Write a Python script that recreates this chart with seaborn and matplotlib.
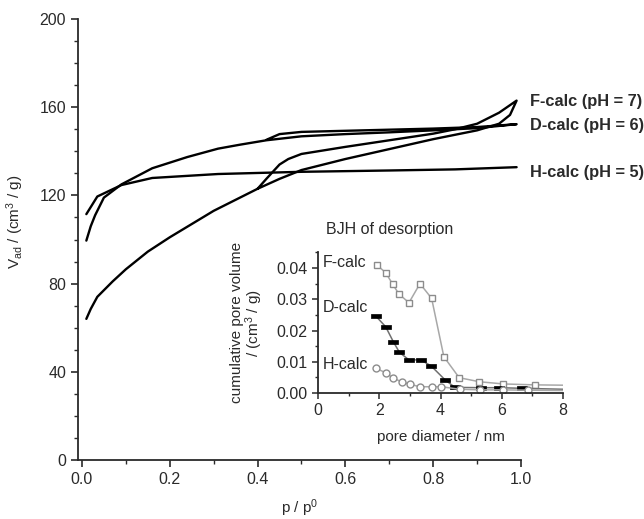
import matplotlib
matplotlib.use('Agg')
import matplotlib.pyplot as plt
from matplotlib.ticker import MultipleLocator, FormatStrFormatter
import seaborn as sns
import pandas as pd

# isotherms (p/p0, V_ad) - adsorption then desorption branch
f_ads_p = [0.01, 0.02, 0.035, 0.07, 0.10, 0.15, 0.20, 0.25, 0.30, 0.35, 0.40, 0.45, 0.50, 0.60, 0.70, 0.80, 0.85, 0.90, 0.95, 0.975, 0.99]
f_ads_v = [64, 68.5, 74, 81, 86.5, 94.5, 101, 107, 113, 118, 123, 127.5, 131.5, 136.5, 141, 145.5, 147.5, 149.5, 152.5, 156.5, 163]
f_des_p = [0.99, 0.95, 0.90, 0.85, 0.80, 0.70, 0.60, 0.50, 0.47, 0.45, 0.42, 0.40]
f_des_v = [163, 157.5, 152.5, 150, 148, 145, 142, 138.8, 136.5, 134, 127.5, 123]

d_ads_p = [0.01, 0.02, 0.03, 0.05, 0.09, 0.16, 0.24, 0.31, 0.36, 0.42, 0.50, 0.60, 0.70, 0.80, 0.90, 0.99]
d_ads_v = [99.5, 106, 111, 119, 125, 132.3, 137.4, 141.2, 143, 145, 146.8, 147.8, 148.6, 149.5, 150.5, 152.3]
d_des_p = [0.99, 0.90, 0.80, 0.70, 0.60, 0.50, 0.45, 0.42]
d_des_v = [152.3, 151, 150.3, 149.8, 149.3, 148.8, 147.8, 145.2]

h_p = [0.01, 0.035, 0.09, 0.16, 0.31, 0.50, 0.70, 0.85, 0.99]
h_v = [111.5, 119.5, 124.7, 127.9, 129.7, 130.7, 131.3, 131.8, 132.8]

iso_labels = ['F-calc (pH = 7)', 'D-calc (pH = 6)', 'H-calc (pH = 5)']

# BJH desorption, cumulative pore volume (last point = line end, no marker)
f_bjh_d = [1.92, 2.21, 2.44, 2.64, 2.97, 3.33, 3.71, 4.11, 4.61, 5.27, 6.05, 7.09, 8.0]
f_bjh_v = [0.0410, 0.0385, 0.0348, 0.0317, 0.0289, 0.0350, 0.0303, 0.0116, 0.0049, 0.0036, 0.0029, 0.0026, 0.0025]
d_bjh_d = [1.89, 2.21, 2.46, 2.66, 2.97, 3.35, 3.69, 4.15, 4.47, 5.31, 5.92, 6.67, 8.0]
d_bjh_v = [0.0246, 0.0212, 0.0164, 0.0130, 0.0106, 0.0106, 0.0087, 0.0042, 0.0018, 0.0017, 0.0017, 0.0015, 0.0012]
h_bjh_d = [1.89, 2.21, 2.46, 2.73, 3.00, 3.33, 3.71, 4.02, 4.64, 5.30, 6.05, 6.85, 8.0]
h_bjh_v = [0.0079, 0.0065, 0.0047, 0.0036, 0.0028, 0.0020, 0.0020, 0.0020, 0.0012, 0.0010, 0.0010, 0.0009, 0.0008]
bjh_labels = ['F-calc', 'D-calc', 'H-calc']

sns.set_style("ticks")
plt.rcParams['font.family'] = ['Liberation Sans', 'DejaVu Sans']
plt.rcParams['font.size'] = 11.5
plt.rcParams['mathtext.default'] = 'regular'
txt = '#2a2a2a'

fig = plt.figure(figsize=(6.44, 5.19), dpi=100)
ax = fig.add_axes([78 / 644, 59 / 519, 443 / 644, 441 / 519])

# main isotherms
iso = [(f_ads_p + f_des_p, f_ads_v + f_des_v),
       (d_ads_p + d_des_p, d_ads_v + d_des_v),
       (h_p, h_v)]
for p, v in iso:
    df = pd.DataFrame({'p': p, 'v': v})
    sns.lineplot(data=df, x='p', y='v', sort=False, estimator=None,
                 color='black', lw=1.7, ax=ax)

ax.set_xlim(-0.009, 1.0)
ax.set_ylim(0, 200)
ax.xaxis.set_major_locator(MultipleLocator(0.2))
ax.xaxis.set_minor_locator(MultipleLocator(0.1))
ax.yaxis.set_major_locator(MultipleLocator(40))
ax.yaxis.set_minor_locator(MultipleLocator(10))
ax.xaxis.set_major_formatter(FormatStrFormatter('%.1f'))
ax.tick_params(which='major', direction='out', length=5, width=1.2, colors=txt, labelsize=11.5)
ax.tick_params(which='minor', direction='out', length=3, width=1.0, colors=txt)
sns.despine(ax=ax)
for s in ['left', 'bottom']:
    ax.spines[s].set_linewidth(1.3)
    ax.spines[s].set_color(txt)
ax.set_xlabel('p / p$^0$', fontsize=11, color=txt, va='top')
ax.set_ylabel('V$_{ad}$ / (cm$^3$ / g)', fontsize=11, color=txt)
ax.xaxis.set_label_coords(0.5, -0.084)
ax.yaxis.set_label_coords(-0.118, 0.54)

label_y = [162.4, 151.5, 130.6]
for lab, y in zip(iso_labels, label_y):
    ax.text(1.02, y, lab, fontsize=11.8, fontweight='bold', color=txt,
            va='center', ha='left', clip_on=False)

# inset: BJH of desorption
ins = fig.add_axes([318 / 644, 126 / 519, 245 / 644, 140.6 / 519])
rect = [(-1, -0.45), (1, -0.45), (1, 0.45), (-1, 0.45), (-1, -0.45)]
styles = [
    dict(color='#a8a8a8', marker='s', markersize=5, markerfacecolor='white',
         markeredgecolor='#8c8c8c', markeredgewidth=1.0),
    dict(color='#707070', marker=rect, markersize=7, markerfacecolor='black',
         markeredgecolor='black', markeredgewidth=0.5),
    dict(color='#a8a8a8', marker='o', markersize=5, markerfacecolor='white',
         markeredgecolor='#8c8c8c', markeredgewidth=1.0),
]
for (d, v), st in zip([(f_bjh_d, f_bjh_v), (d_bjh_d, d_bjh_v), (h_bjh_d, h_bjh_v)], styles):
    df = pd.DataFrame({'d': d, 'v': v})
    sns.lineplot(data=df, x='d', y='v', sort=False, estimator=None, lw=1.1,
                 markevery=list(range(len(d) - 1)), ax=ins, **st)

ins.set_xlim(0, 8)
ins.set_ylim(0, 0.045)
ins.xaxis.set_major_locator(MultipleLocator(2))
ins.xaxis.set_minor_locator(MultipleLocator(1))
ins.yaxis.set_major_locator(MultipleLocator(0.01))
ins.yaxis.set_minor_locator(MultipleLocator(0.005))
ins.yaxis.set_major_formatter(FormatStrFormatter('%.2f'))
ins.tick_params(which='major', direction='out', length=4, width=1.1, colors=txt, labelsize=11.5)
ins.tick_params(which='minor', direction='out', length=2.5, width=1.0, colors=txt)
ins.set_facecolor('none')
sns.despine(ax=ins)
for s in ['left', 'bottom']:
    ins.spines[s].set_linewidth(1.3)
    ins.spines[s].set_color(txt)
ins.set_xlabel('pore diameter / nm', fontsize=11, color=txt, labelpad=8)
ins.set_ylabel('cumulative pore volume\n/ (cm$^3$ / g)', fontsize=11, color=txt,
               linespacing=1.0)
ins.yaxis.set_label_coords(-0.215, 0.5)

ins.text(0.27, 0.0522, 'BJH of desorption', fontsize=11.5, color=txt, va='center', clip_on=False)
for lab, y in zip(bjh_labels, [0.0419, 0.0275, 0.0090]):
    ins.text(0.15, y, lab, fontsize=11.5, color=txt, va='center')

fig.savefig('out.png', dpi=100)
